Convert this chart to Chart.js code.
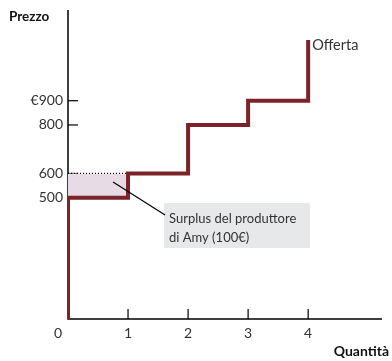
<!DOCTYPE html>
<html>
<head>
<meta charset="utf-8">
<script src="https://cdn.jsdelivr.net/npm/chart.js@4/dist/chart.umd.min.js"></script>
<style>
  html, body { margin: 0; padding: 0; background: #fff; }
  #wrap { width: 392px; height: 361px; }
</style>
</head>
<body>
<div id="wrap"><canvas id="chart"></canvas></div>
<script>
// supply curve corners (horizontal first, then the step up)
const supplyQty = [0, 0, 1, 2, 3, 4];
const supplyPrice = [0, 500, 600, 800, 900, 1150];

// producer surplus of Amy: between price 600 and her cost 500, for 1 unit
const surplusQty = [0, 1];
const surplusTop = [600, 600];
const surplusBase = 500;

const xTicks = [1, 2, 3, 4];
const yTicks = [500, 600, 800, 900];
const yTickLabels = ['500', '600', '800', '€900'];

const FONT = 'Lato, "Open Sans", sans-serif';
const MAROON = '#7b2329';

const supplyData = supplyQty.map((q, i) => ({ x: q, y: supplyPrice[i] }));
const surplusData = surplusQty.map((q, i) => ({ x: q, y: surplusTop[i] }));

const axesPlugin = {
  id: 'axesPlugin',
  beforeDatasetsDraw(chart) {
    const { ctx, chartArea: a, scales: { x, y } } = chart;
    ctx.save();
    ctx.strokeStyle = '#000';
    ctx.lineWidth = 1.5;
    ctx.beginPath();
    ctx.moveTo(a.left, a.top);
    ctx.lineTo(a.left, a.bottom);
    ctx.lineTo(a.right, a.bottom);
    ctx.stroke();

    // ticks point inwards
    ctx.lineWidth = 1.2;
    xTicks.forEach((t) => {
      const px = x.getPixelForValue(t);
      ctx.beginPath();
      ctx.moveTo(px, a.bottom);
      ctx.lineTo(px, a.bottom - 10);
      ctx.stroke();
    });
    yTicks.forEach((t) => {
      const py = y.getPixelForValue(t);
      ctx.beginPath();
      ctx.moveTo(a.left, py);
      ctx.lineTo(a.left + 10, py);
      ctx.stroke();
    });
    ctx.restore();
  },
  afterDatasetsDraw(chart) {
    const { ctx, chartArea: a, scales: { x, y } } = chart;
    ctx.save();
    ctx.fillStyle = '#333';
    ctx.font = '14px ' + FONT;
    ctx.textBaseline = 'middle';

    ctx.textAlign = 'right';
    yTicks.forEach((t, i) => {
      ctx.fillText(yTickLabels[i], a.left - 5, y.getPixelForValue(t));
    });

    ctx.textAlign = 'center';
    ctx.fillText('0', a.left - 10, a.bottom + 14);
    xTicks.forEach((t) => {
      ctx.fillText(String(t), x.getPixelForValue(t), a.bottom + 14);
    });

    // axis titles
    ctx.fillStyle = '#111';
    ctx.font = 'bold 13.5px ' + FONT;
    ctx.textAlign = 'left';
    ctx.fillText('Prezzo', 9, 17);
    ctx.font = 'bold 14px ' + FONT;
    ctx.textAlign = 'right';
    ctx.fillText('Quantità', 389, 351);

    // curve label
    const last = supplyData[supplyData.length - 1];
    ctx.fillStyle = '#333';
    ctx.font = '14.5px ' + FONT;
    ctx.textAlign = 'left';
    ctx.fillText('Offerta', x.getPixelForValue(last.x) + 4, y.getPixelForValue(last.y) + 5);

    // callout
    ctx.font = '13px ' + FONT;
    const sx = x.getPixelForValue(0.75);
    const sy = y.getPixelForValue(565);
    const bx = x.getPixelForValue(1.6);
    const by = 203;
    ctx.fillStyle = '#e6e8ea';
    ctx.fillRect(bx, by, 146, 45);
    ctx.strokeStyle = '#000';
    ctx.lineWidth = 1.2;
    ctx.beginPath();
    ctx.moveTo(sx, sy);
    ctx.lineTo(bx + 1, by + 12);
    ctx.stroke();
    ctx.fillStyle = '#333';
    ctx.fillText('Surplus del produttore', bx + 5, by + 16);
    ctx.fillText('di Amy (100€)', bx + 5, by + 35);
    ctx.restore();
  }
};

new Chart(document.getElementById('chart'), {
  type: 'line',
  data: {
    datasets: [
      {
        label: 'Offerta',
        data: supplyData,
        stepped: 'before',
        borderColor: MAROON,
        borderWidth: 4,
        borderJoinStyle: 'miter',
        borderCapStyle: 'butt',
        pointRadius: 0,
        fill: false,
        order: 0,
      },
      {
        label: 'Surplus',
        data: surplusData,
        borderColor: '#000',
        borderWidth: 1.2,
        borderDash: [1, 2],
        backgroundColor: '#e7dbe6',
        pointRadius: 0,
        fill: { value: surplusBase },
        order: 1,
      },
    ],
  },
  options: {
    responsive: true,
    maintainAspectRatio: false,
    animation: false,
    layout: { padding: { left: 68, right: 10, top: 10, bottom: 42 } },
    plugins: { legend: { display: false }, tooltip: { enabled: false } },
    scales: {
      x: { type: 'linear', min: 0, max: 5.23, display: false },
      y: { type: 'linear', min: 0, max: 1274, display: false },
    },
  },
  plugins: [axesPlugin],
});
</script>
</body>
</html>
